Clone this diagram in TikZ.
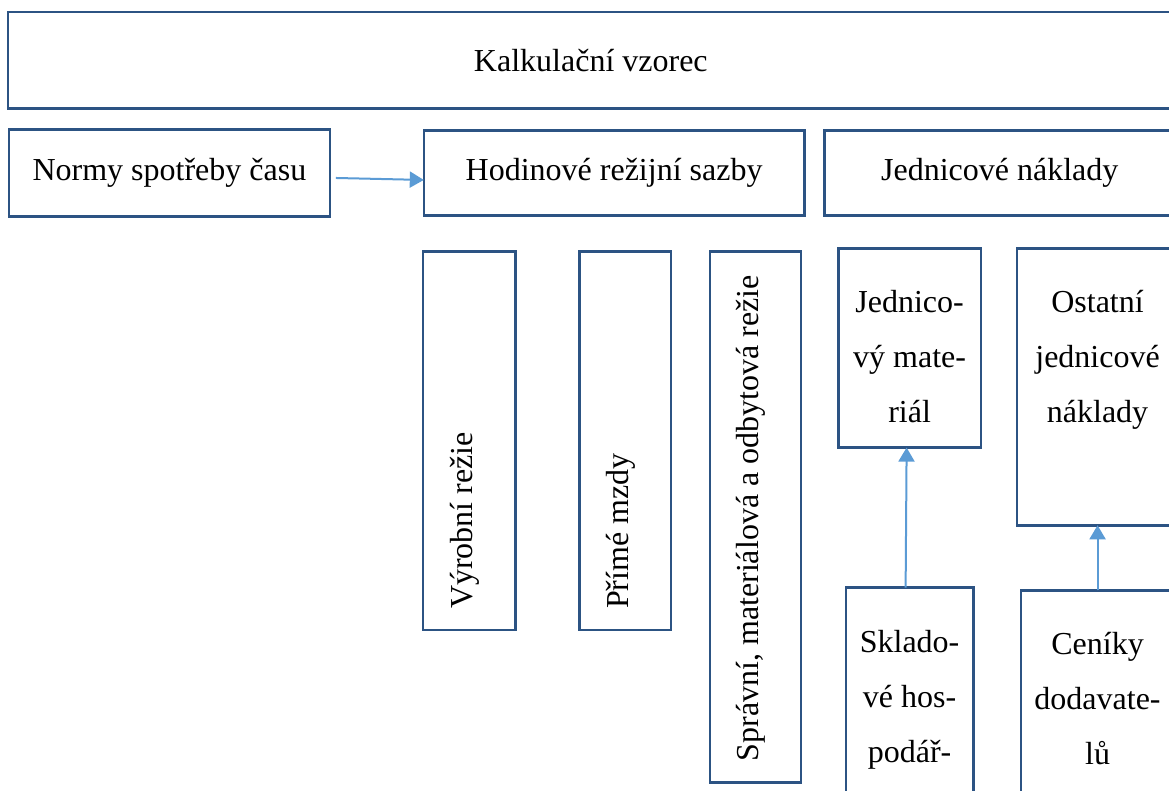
\documentclass[tikz,border=0pt]{standalone}
\usepackage{fontspec}
\setmainfont{Liberation Serif}
\usepackage{tikz}
\usetikzlibrary{arrows.meta,positioning}
\definecolor{boxline}{RGB}{44,83,131}
\definecolor{arrowblue}{RGB}{91,155,213}

\begin{document}
\begin{tikzpicture}[
        x=1bp,y=1bp,
        every node/.style={font=\fontsize{32bp}{55bp}\selectfont,align=center},
        box/.style={draw=boxline,line width=2.5bp,fill=white,inner sep=0pt,outer sep=0pt},
        txt/.style={inner sep=0pt,outer sep=0pt,anchor=base},
        vtxt/.style={inner sep=0pt,outer sep=0pt,rotate=90,anchor=base west},
        arrow/.style={-{Triangle[length=14bp,width=16bp]},draw=arrowblue,fill=arrowblue,line width=2bp}
    ]
        \useasboundingbox (0,0) rectangle (1169,-791);
        \clip (0,0) rectangle (1169,-791);
        \node[box,minimum width=1170,minimum height=97,anchor=north west] (vzorec) at (8,-12) {Kalkulační vzorec};
        \node[box,minimum width=322,minimum height=87,below right=21 and 1 of vzorec.south west] (normy) {Normy spotřeby času};
        \node[box,minimum width=382,minimum height=85,right=94 of normy] (sazby) {Hodinové režijní sazby};
        \node[box,minimum width=352,minimum height=85,right=20 of sazby] (jedn) {Jednicové náklady};
        \node[box,minimum width=93,minimum height=380,below right=36 and -1 of sazby.south west] (vyrob) {};
        \node[box,minimum width=92,minimum height=380,right=64 of vyrob] (mzdy) {};
        \node[box,minimum width=91,minimum height=533,right=39 of mzdy.north east,anchor=north west] (sprav) {};
        \node[box,minimum width=143,minimum height=200,below right=33 and 14 of jedn.south west] (jmat) {};
        \node[box,minimum width=162,minimum height=278,right=36 of jmat.north east,anchor=north west] (ostat) {};
        \node[box,minimum width=128,minimum height=260,below=140 of jmat] (sklad) {};
        \node[box,minimum width=154,minimum height=260,below=65 of ostat] (ceniky) {};
        \node[vtxt] (vyrob-t) at ([xshift=3,yshift=21]vyrob.south) {Výrobní režie};
        \node[vtxt] (mzdy-t) at ([xshift=3,yshift=21]mzdy.south) {Přímé mzdy};
        \node[vtxt] (sprav-t) at ([xshift=3,yshift=21]sprav.south) {Správní, materiálová a odbytová režie};
        \node[txt] (jmat-t) at ([yshift=-175]jmat.north) {Jednico-\\vý mate-\\riál};
        \node[txt] (ostat-t) at ([yshift=-175]ostat.north) {Ostatní\\jednicové\\náklady};
        \node[txt] (sklad-t) at ([yshift=-176]sklad.north) {Sklado-\\vé hos-\\podář-};
        \node[txt] (ceniky-t) at ([yshift=-175]ceniky.north) {Ceníky\\dodavate-\\lů};
        \draw[arrow] ([shift={(6,-5)}]normy.east) -- ([yshift=-7]sazby.west);
        \draw[arrow] ([xshift=-4]sklad.north) -- ([xshift=-3]jmat.south);
        \draw[arrow] (ceniky.north) -- (ostat.south);
    \end{tikzpicture}
\end{document}
